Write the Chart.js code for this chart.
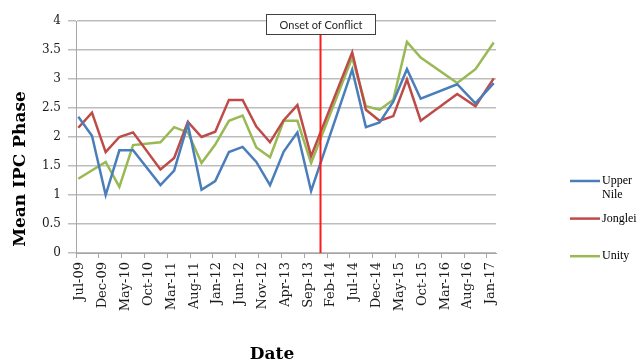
<!DOCTYPE html>
<html>
<head>
<meta charset="utf-8">
<title>Mean IPC Phase by State</title>
<script src="https://cdn.jsdelivr.net/npm/chart.js@4/dist/chart.umd.min.js"></script>
<style>
  html, body { margin: 0; padding: 0; background: #ffffff; }
  #wrap { width: 638px; height: 363px; }
</style>
</head>
<body>
<div id="wrap"><canvas id="chart" width="638" height="363"></canvas></div>
<script>
// Survey dates (year-month) and mean IPC phase for each state
const surveyDates = ['2009-07','2009-10','2010-01','2010-04','2010-07','2011-01','2011-04','2011-07',
  '2011-10','2012-01','2012-04','2012-07','2012-10','2013-01','2013-04','2013-07','2013-10',
  '2014-07','2014-10','2015-01','2015-04','2015-07','2015-10','2016-06','2016-10','2017-02'];

const upperNile = [2.35, 2.02, 1.00, 1.77, 1.77, 1.17, 1.42, 2.22, 1.09, 1.24, 1.74, 1.83, 1.57,
  1.17, 1.75, 2.08, 1.07, 3.16, 2.17, 2.25, 2.61, 3.17, 2.66, 2.91, 2.58, 2.93];

const jonglei = [2.16, 2.42, 1.74, 2.00, 2.08, 1.44, 1.64, 2.26, 2.00, 2.09, 2.64, 2.64, 2.18,
  1.91, 2.29, 2.55, 1.67, 3.46, 2.47, 2.28, 2.36, 2.99, 2.28, 2.74, 2.53, 3.01];

const unity = [1.28, null, 1.57, 1.14, 1.86, 1.91, 2.17, 2.08, 1.55, 1.87, 2.28, 2.37, 1.82,
  1.65, 2.28, 2.28, 1.55, 3.37, 2.53, 2.47, 2.64, 3.64, 3.37, 2.93, 3.17, 3.63];

const seriesNames = ['Upper Nile', 'Jonglei', 'Unity'];
const seriesColors = ['#4a7ebb', '#be4b48', '#98b954'];

// Date axis: one tick every five months starting Jul-09
const tickLabels = ['Jul-09','Dec-09','May-10','Oct-10','Mar-11','Aug-11','Jan-12','Jun-12','Nov-12',
  'Apr-13','Sep-13','Feb-14','Jul-14','Dec-14','May-15','Oct-15','Mar-16','Aug-16','Jan-17'];
const axisStart = '2009-07';
const axisEnd = '2017-03';

const conflictDate = '2013-12-15';
const conflictLabel = 'Onset of Conflict';

// months elapsed since the start of the axis (day of month as a fraction)
function monthIndex(str) {
  const [y, m, d] = str.split('-').map(Number);
  const [y0, m0] = axisStart.split('-').map(Number);
  const days = new Date(y, m, 0).getDate();
  return (y - y0) * 12 + (m - m0) + (d ? (d - 1) / days : 0);
}
// survey values are plotted mid-month
const xs = surveyDates.map(s => monthIndex(s) + 0.5);
const toPoints = vals => vals.map((v, i) => ({ x: xs[i], y: v }));

const serif = '"DejaVu Serif", "Liberation Serif", serif';

// Red vertical marker with its boxed caption
const conflictMarker = {
  id: 'conflictMarker',
  afterDatasetsDraw(chart) {
    const { ctx, chartArea, scales } = chart;
    const x = Math.round(scales.x.getPixelForValue(monthIndex(conflictDate))) + 0.5;
    ctx.save();
    ctx.font = '11px Lato, "Liberation Sans", sans-serif';
    const w = Math.round(ctx.measureText(conflictLabel).width + 26);
    const h = 20;
    const top = chartArea.top - 7;
    ctx.strokeStyle = '#ff1a1a';
    ctx.lineWidth = 2;
    ctx.beginPath();
    ctx.moveTo(x, top + h);
    ctx.lineTo(x, chartArea.bottom);
    ctx.stroke();
    const bx = Math.round(x - w / 2) + 0.5;
    ctx.fillStyle = '#ffffff';
    ctx.fillRect(bx, top + 0.5, w, h);
    ctx.strokeStyle = '#404040';
    ctx.lineWidth = 1;
    ctx.strokeRect(bx, top + 0.5, w, h);
    ctx.fillStyle = '#262626';
    ctx.textAlign = 'center';
    ctx.textBaseline = 'middle';
    ctx.fillText(conflictLabel, bx + w / 2, top + h / 2 + 1);
    ctx.restore();
  }
};

// Axis titles
const axisTitles = {
  id: 'axisTitles',
  afterDraw(chart) {
    const { ctx } = chart;
    ctx.save();
    ctx.fillStyle = '#000000';
    ctx.font = 'bold 17px ' + serif;
    ctx.textAlign = 'center';
    ctx.textBaseline = 'middle';
    ctx.fillText('Date', 272, 355);
    ctx.translate(21, 169);
    ctx.rotate(-Math.PI / 2);
    ctx.fillText('Mean IPC Phase', 0, 0);
    ctx.restore();
  }
};

// Legend on the right, names wrapped to a narrow column
const sideLegend = {
  id: 'sideLegend',
  afterDraw(chart) {
    const { ctx } = chart;
    ctx.save();
    ctx.font = '12px "Liberation Serif", serif';
    ctx.textBaseline = 'middle';
    ctx.textAlign = 'left';
    const x0 = 570, x1 = 600, tx = 602, maxW = 36, lineH = 14;
    let y = 181;
    chart.data.datasets.forEach(ds => {
      ctx.strokeStyle = ds.borderColor;
      ctx.lineWidth = 2.5;
      ctx.beginPath();
      ctx.moveTo(x0, y);
      ctx.lineTo(x1, y);
      ctx.stroke();
      const words = ds.label.split(' ');
      const lines = [];
      let cur = '';
      words.forEach(wd => {
        const t = cur ? cur + ' ' + wd : wd;
        if (cur && ctx.measureText(t).width > maxW) { lines.push(cur); cur = wd; } else { cur = t; }
      });
      lines.push(cur);
      ctx.fillStyle = '#000000';
      lines.forEach((ln, i) => ctx.fillText(ln, tx, y + i * lineH));
      y += 37.6;
    });
    ctx.restore();
  }
};

const datasets = [upperNile, jonglei, unity].map((vals, i) => ({
  label: seriesNames[i],
  data: toPoints(vals),
  borderColor: seriesColors[i],
  backgroundColor: seriesColors[i],
  borderWidth: 2.5,
  pointRadius: 0,
  tension: 0,
  spanGaps: true,
  fill: false
}));

new Chart(document.getElementById('chart'), {
  type: 'line',
  data: { datasets },
  options: {
    responsive: false,
    animation: false,
    devicePixelRatio: 1,
    layout: { padding: { top: 21, right: 142, left: 0, bottom: 0 } },
    plugins: { legend: { display: false }, tooltip: { enabled: false } },
    scales: {
      x: {
        type: 'linear',
        min: monthIndex(axisStart),
        max: monthIndex(axisEnd),
        afterFit(scale) { scale.height = 110; },
        border: { color: '#a6a6a6', width: 1 },
        grid: { drawOnChartArea: false, drawTicks: true, tickLength: 5, color: '#a6a6a6' },
        ticks: {
          stepSize: 5,
          includeBounds: false,
          autoSkip: false,
          minRotation: 90,
          maxRotation: 90,
          labelOffset: 4,
          padding: 4,
          color: '#1a1a1a',
          font: { family: serif, size: 13 },
          callback: v => tickLabels[Math.round(v / 5)]
        }
      },
      y: {
        min: 0,
        max: 4,
        afterFit(scale) { scale.width = 76; },
        border: { color: '#a6a6a6', width: 1 },
        grid: { color: '#bdbdbd', lineWidth: 1.5, tickLength: 8 },
        ticks: {
          stepSize: 0.5,
          padding: 7,
          color: '#1a1a1a',
          font: { family: serif, size: 12 },
          callback: v => String(v)
        }
      }
    }
  },
  plugins: [conflictMarker, axisTitles, sideLegend]
});
</script>
</body>
</html>
